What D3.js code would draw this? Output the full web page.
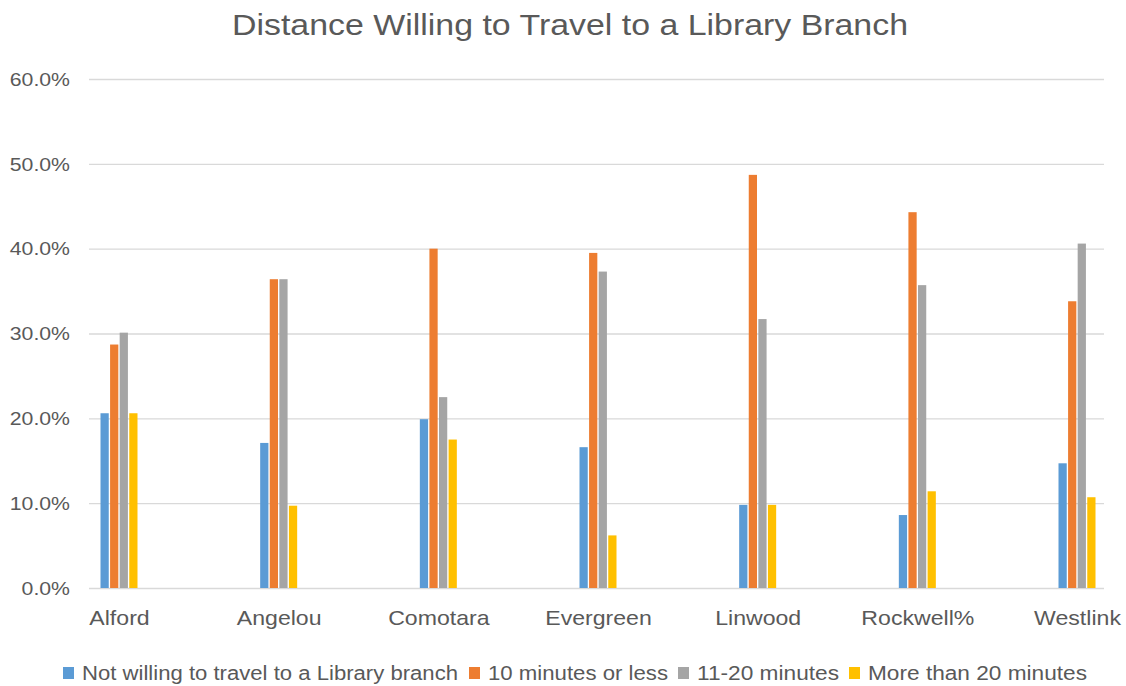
<!DOCTYPE html>
<html>
<head>
<meta charset="utf-8">
<script src="https://cdn.jsdelivr.net/npm/d3@7"></script>
<style>
  html, body { margin: 0; padding: 0; background: #fff; }
  svg { display: block; font-family: "Liberation Sans", Arial, sans-serif; }
</style>
</head>
<body>
<svg id="chart" width="1126" height="686"></svg>
<script>
// Branches along the x axis
const branches = ["Alford", "Angelou", "Comotara", "Evergreen", "Linwood", "Rockwell%", "Westlink"];

// Series names (legend order)
const seriesNames = [
  "Not willing to travel to a Library branch",
  "10 minutes or less",
  "11-20 minutes",
  "More than 20 minutes"
];

// Share of respondents per branch, one array per series
const notWilling   = [0.206, 0.171, 0.199, 0.166, 0.098, 0.086, 0.147];
const tenOrLess    = [0.287, 0.364, 0.400, 0.395, 0.487, 0.443, 0.338];
const elevenTo20   = [0.301, 0.364, 0.225, 0.373, 0.317, 0.357, 0.406];
const moreThan20   = [0.206, 0.097, 0.175, 0.062, 0.098, 0.114, 0.107];

const yTicks = [0, 0.1, 0.2, 0.3, 0.4, 0.5, 0.6];

const seriesValues = [notWilling, tenOrLess, elevenTo20, moreThan20];
const colors = ["#5B9BD5", "#ED7D31", "#A5A5A5", "#FFC000"];

const svg = d3.select("#chart");
const textColor = "#595959";

// Widen text a little horizontally, anchored as usual
function stretch(sel, factor) {
  sel.each(function () {
    const len = this.getComputedTextLength();
    d3.select(this)
      .attr("textLength", len * factor)
      .attr("lengthAdjust", "spacingAndGlyphs");
  });
}

// Plot geometry
const plotLeft = 89, plotRight = 1104, plotTop = 79, plotBottom = 588;

const y = d3.scaleLinear().domain([0, 0.6]).range([plotBottom, plotTop]);
const x = d3.scalePoint().domain(branches).range([119, 1077]);
const xInner = d3.scaleBand().domain(d3.range(seriesNames.length))
  .range([-18.5, 18.5]).paddingInner(0.14);

// Title
svg.append("text")
  .attr("x", 570).attr("y", 35)
  .attr("text-anchor", "middle")
  .attr("fill", textColor)
  .attr("font-size", 29)
  .attr("textLength", 676)
  .attr("lengthAdjust", "spacingAndGlyphs")
  .text("Distance Willing to Travel to a Library Branch");

// Gridlines and y labels
const yAxis = d3.axisLeft(y)
  .tickValues(yTicks)
  .tickFormat(d3.format(".1%"))
  .tickSize(-(plotRight - plotLeft))
  .tickPadding(19);

const yG = svg.append("g")
  .attr("transform", `translate(${plotLeft},0)`)
  .call(yAxis);
yG.select(".domain").remove();
yG.selectAll(".tick line").attr("stroke", "#D9D9D9").attr("stroke-width", 1.3);
yG.selectAll(".tick text")
  .attr("fill", textColor)
  .attr("font-size", 18)
  .attr("dy", "0.35em")
  .call(stretch, 1.18);

// Bars
const barData = [];
branches.forEach((b, i) => {
  seriesValues.forEach((vals, s) => {
    barData.push({ branch: b, series: s, value: vals[i] });
  });
});

svg.append("g").selectAll("rect")
  .data(barData)
  .join("rect")
  .attr("x", d => x(d.branch) + xInner(d.series))
  .attr("width", xInner.bandwidth())
  .attr("y", d => y(d.value))
  .attr("height", d => y(0) - y(d.value))
  .attr("fill", d => colors[d.series]);

// X labels
const xAxis = d3.axisBottom(x).tickSize(0).tickPadding(22);
const xG = svg.append("g")
  .attr("transform", `translate(0,${plotBottom})`)
  .call(xAxis);
xG.select(".domain").remove();
xG.selectAll(".tick text")
  .attr("fill", textColor)
  .attr("font-size", 21)
  .call(stretch, 1.1);

// Legend
const legendItems = [
  { sx: 63,  tx: 82,  w: 376 },
  { sx: 469, tx: 488, w: 180 },
  { sx: 678, tx: 697, w: 142 },
  { sx: 849, tx: 868, w: 219 }
];
const legend = svg.append("g");
seriesNames.forEach((name, i) => {
  const it = legendItems[i];
  legend.append("rect")
    .attr("x", it.sx).attr("y", 667)
    .attr("width", 11).attr("height", 12)
    .attr("fill", colors[i]);
  legend.append("text")
    .attr("x", it.tx).attr("y", 680)
    .attr("fill", textColor)
    .attr("font-size", 20)
    .attr("textLength", it.w)
    .attr("lengthAdjust", "spacingAndGlyphs")
    .text(name);
});
</script>
</body>
</html>
